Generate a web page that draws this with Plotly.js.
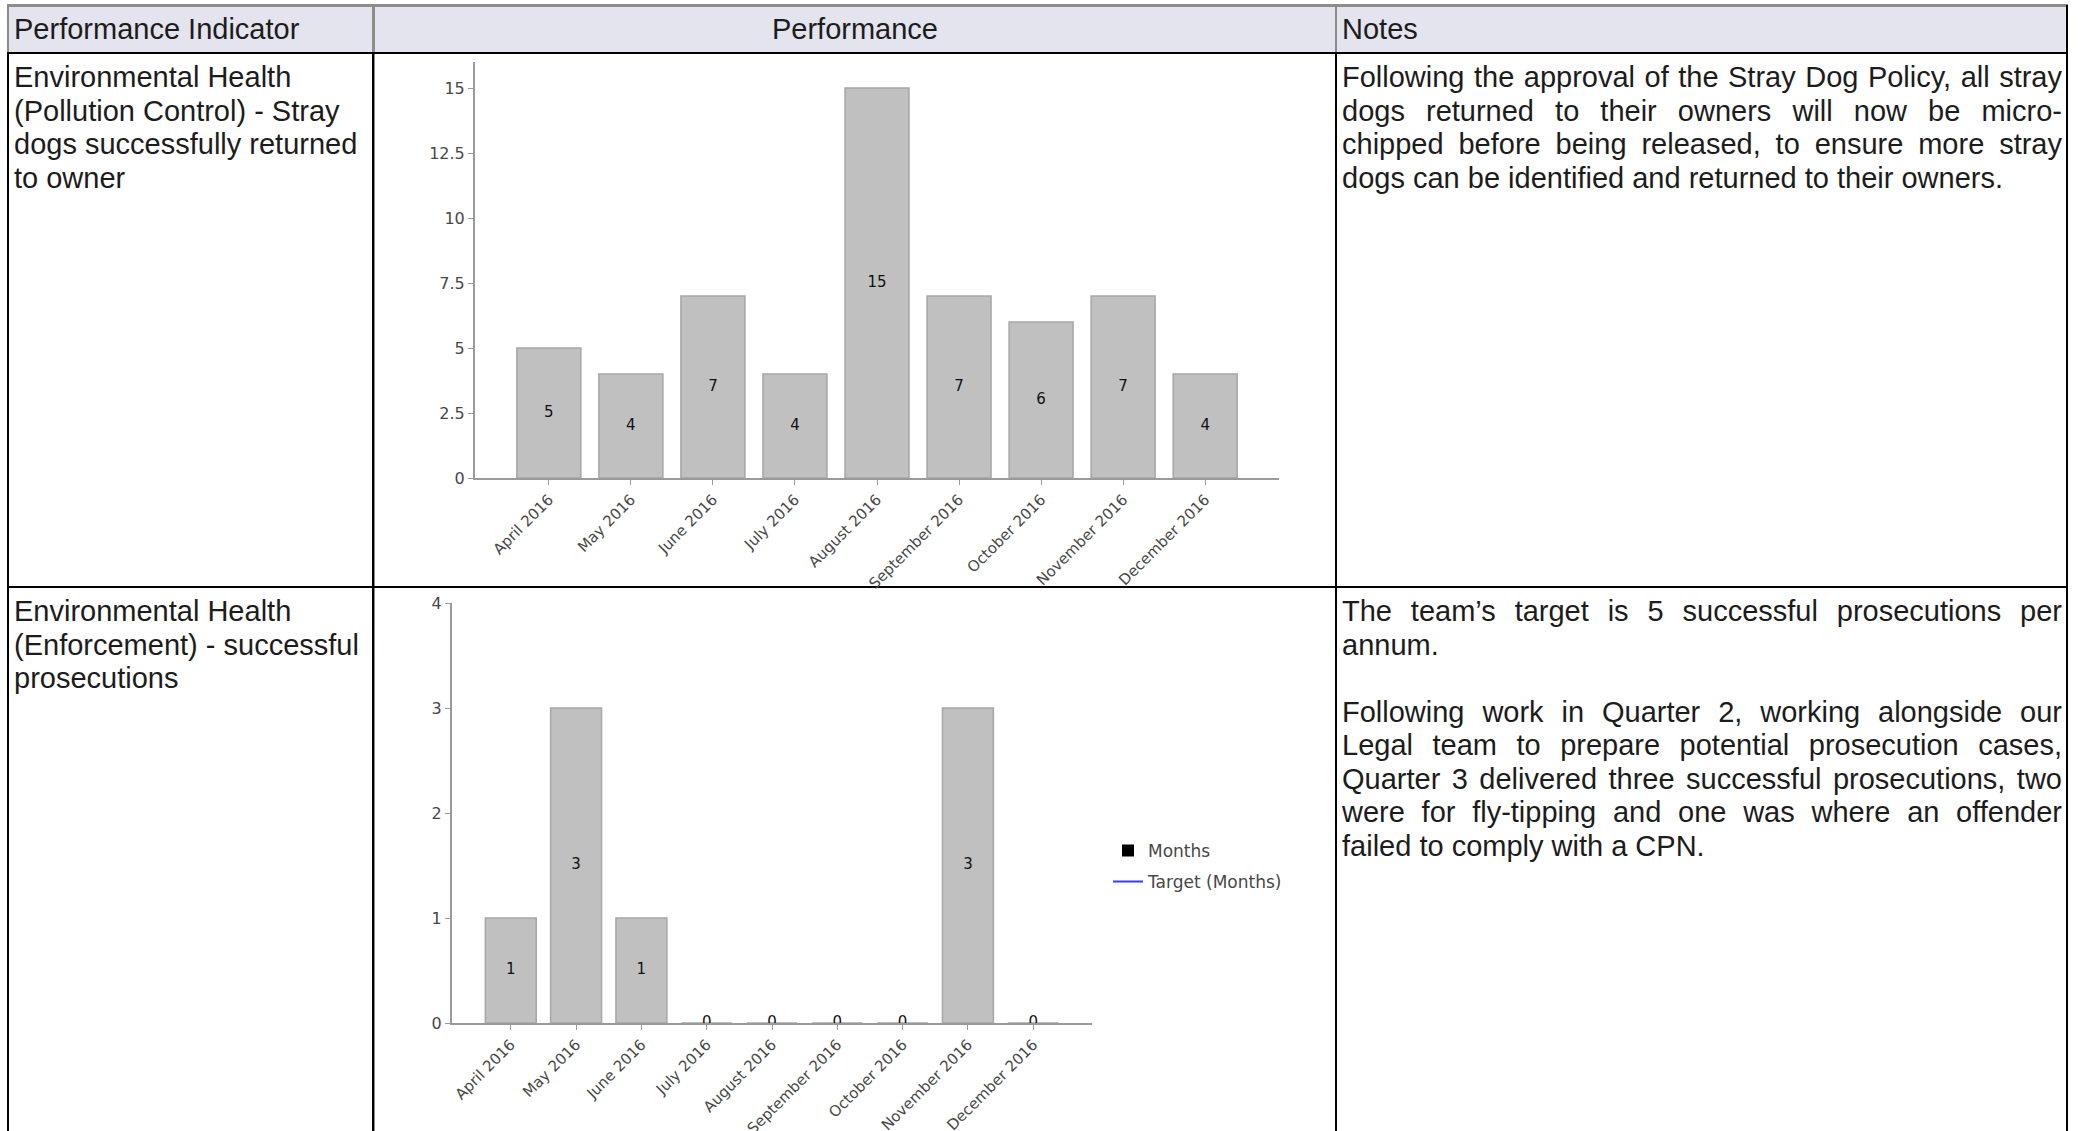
<!DOCTYPE html>
<html>
<head>
<meta charset="utf-8">
<script src="https://cdn.plot.ly/plotly-3.0.1.min.js"></script>
<style>
  html, body { margin: 0; padding: 0; background: #ffffff; width: 2078px; height: 1131px; overflow: hidden; }
  .abs { position: absolute; }
  .hdr-bg { background: #e4e4ee; }
  .gline { background: #8c8c8c; }
  .bline { background: #000000; }
  .txt { font-family: "Liberation Sans", Arial, sans-serif; font-size: 29px; line-height: 33.5px; color: #1c1c1c; white-space: nowrap; }
  .just { text-align: justify; text-align-last: justify; white-space: normal; }
  .para { margin-bottom: 33.5px; }
  .chart { position: absolute; }
</style>
</head>
<body>

<!-- header band -->
<div class="abs hdr-bg" style="left:9px; top:7px; width:2057px; height:45px;"></div>
<div class="abs gline" style="left:7px; top:4px; width:2061px; height:3px;"></div>
<div class="abs gline" style="left:7px; top:5px; width:2px; height:48px;"></div>
<div class="abs gline" style="left:372px; top:5px; width:3px; height:48px;"></div>
<div class="abs gline" style="left:1335px; top:5px; width:2px; height:48px;"></div>
<div class="abs bline" style="left:2066px; top:5px; width:2px; height:48px;"></div>
<div class="abs bline" style="left:7px; top:52px; width:2061px; height:2px;"></div>

<!-- body grid -->
<div class="abs bline" style="left:7px; top:52px; width:2px; height:1079px;"></div>
<div class="abs bline" style="left:372px; top:52px; width:2px; height:1079px;"></div>
<div class="abs gline" style="left:374px; top:54px; width:1px; height:1077px;"></div>
<div class="abs bline" style="left:1335px; top:52px; width:2px; height:1079px;"></div>
<div class="abs bline" style="left:2066px; top:52px; width:2px; height:1079px;"></div>
<div class="abs bline" style="left:7px; top:586px; width:2061px; height:2px;"></div>

<!-- header texts -->
<div class="abs txt" style="left:14px; top:13px;">Performance Indicator</div>
<div class="abs txt" style="left:375px; top:13px; width:960px; text-align:center;">Performance</div>
<div class="abs txt" style="left:1342px; top:13px;">Notes</div>

<!-- row 1 texts -->
<div class="abs txt" style="left:14px; top:61px;">Environmental Health<br>(Pollution Control) - Stray<br>dogs successfully returned<br>to owner</div>
<div class="abs txt" style="left:1342px; top:61px; width:720px;">
  <div class="just">Following the approval of the Stray Dog Policy, all stray</div>
  <div class="just">dogs returned to their owners will now be micro-</div>
  <div class="just">chipped before being released, to ensure more stray</div>
  <div>dogs can be identified and returned to their owners.</div>
</div>

<!-- row 2 texts -->
<div class="abs txt" style="left:14px; top:595px;">Environmental Health<br>(Enforcement) - successful<br>prosecutions</div>
<div class="abs txt" style="left:1342px; top:595px; width:720px;">
  <div class="para">
    <div class="just">The team’s target is 5 successful prosecutions per</div>
    <div>annum.</div>
  </div>
  <div>
    <div class="just">Following work in Quarter 2, working alongside our</div>
    <div class="just">Legal team to prepare potential prosecution cases,</div>
    <div class="just">Quarter 3 delivered three successful prosecutions, two</div>
    <div class="just">were for fly-tipping and one was where an offender</div>
    <div>failed to comply with a CPN.</div>
  </div>
</div>

<div id="strayDogs" class="chart" style="left:374px; top:54px; width:961px; height:546px;"></div>
<div id="prosecutions" class="chart" style="left:374px; top:588px; width:961px; height:543px;"></div>

<script>
// Reporting months shared by both indicators
const months = ["April 2016", "May 2016", "June 2016", "July 2016", "August 2016",
                "September 2016", "October 2016", "November 2016", "December 2016"];

// Stray dogs successfully returned to owner, per month
const strayDogsReturned = [5, 4, 7, 4, 15, 7, 6, 7, 4];

// Successful prosecutions, per month
const prosecutions = [1, 3, 1, 0, 0, 0, 0, 3, 0];

// Monthly target series (no values recorded)
const prosecutionTarget = [null, null, null, null, null, null, null, null, null];

const fontFamily = "DejaVu Sans, Tahoma, sans-serif";
const xTickFont = { family: fontFamily, size: 15, color: "#474747" };
const yTickFont = { family: fontFamily, size: 16, color: "#474747" };
const legendFont = { family: fontFamily, size: 17, color: "#474747" };
const valueFont = { family: fontFamily, size: 15, color: "#111111" };
const barFill = "#c0c0c0";
const barEdge = "#a6a6a6";
const axisGrey = "#9a9a9a";

function barTrace(values, name) {
  return {
    type: "bar", x: months, y: values, name: name,
    marker: { color: barFill, line: { color: barEdge, width: 1.5 } },
    hoverinfo: "x+y", showlegend: false, legendgroup: "bars"
  };
}

// Value labels centred inside each bar
function labelTrace(values) {
  return {
    type: "scatter", mode: "text", x: months,
    y: values.map(v => v / 2),
    text: values.map(v => String(v)),
    textposition: "middle center", textfont: valueFont,
    cliponaxis: true, hoverinfo: "skip", showlegend: false
  };
}

function xAxis() {
  return {
    type: "category", range: [-0.9, 8.9],
    showline: true, linecolor: axisGrey, linewidth: 2,
    ticks: "outside", ticklen: 5, tickcolor: axisGrey, tickwidth: 1,
    tickangle: -45, tickfont: xTickFont,
    showgrid: false, zeroline: false, fixedrange: true
  };
}

function yAxis(max, step) {
  return {
    range: [0, max], dtick: step, tick0: 0,
    showline: true, linecolor: axisGrey, linewidth: 2,
    ticks: "outside", ticklen: 5, tickcolor: axisGrey, tickwidth: 1,
    tickfont: yTickFont, showgrid: false, zeroline: false, fixedrange: true
  };
}

const config = { displayModeBar: false, staticPlot: true };

Plotly.newPlot("strayDogs",
  [barTrace(strayDogsReturned, "Months"), labelTrace(strayDogsReturned)],
  {
    width: 961, height: 546,
    margin: { l: 101, r: 56, t: 8, b: 122 },
    paper_bgcolor: "rgba(0,0,0,0)", plot_bgcolor: "rgba(0,0,0,0)",
    bargap: 0.22, showlegend: false,
    xaxis: xAxis(), yaxis: yAxis(16, 2.5)
  }, config);

Plotly.newPlot("prosecutions",
  [
    barTrace(prosecutions, "Months"),
    labelTrace(prosecutions),
    {
      type: "bar", x: months, y: prosecutionTarget, name: "Months",
      marker: { color: "#000000" }, legendgroup: "months", showlegend: true, hoverinfo: "skip"
    },
    {
      type: "scatter", mode: "lines", x: months, y: prosecutionTarget, name: "Target (Months)",
      line: { color: "#3a3aff", width: 2 }, legendgroup: "target", showlegend: true
    }
  ],
  {
    width: 961, height: 543,
    margin: { l: 78, r: 243, t: 15, b: 108 },
    paper_bgcolor: "rgba(0,0,0,0)", plot_bgcolor: "rgba(0,0,0,0)",
    bargap: 0.22, barmode: "overlay",
    xaxis: xAxis(), yaxis: yAxis(4, 1),
    legend: {
      x: 1.025, xanchor: "left", y: 0.373, yanchor: "middle",
      font: legendFont, traceorder: "grouped", tracegroupgap: 6,
      bgcolor: "rgba(0,0,0,0)", borderwidth: 0
    }
  }, config);
</script>
</body>
</html>
